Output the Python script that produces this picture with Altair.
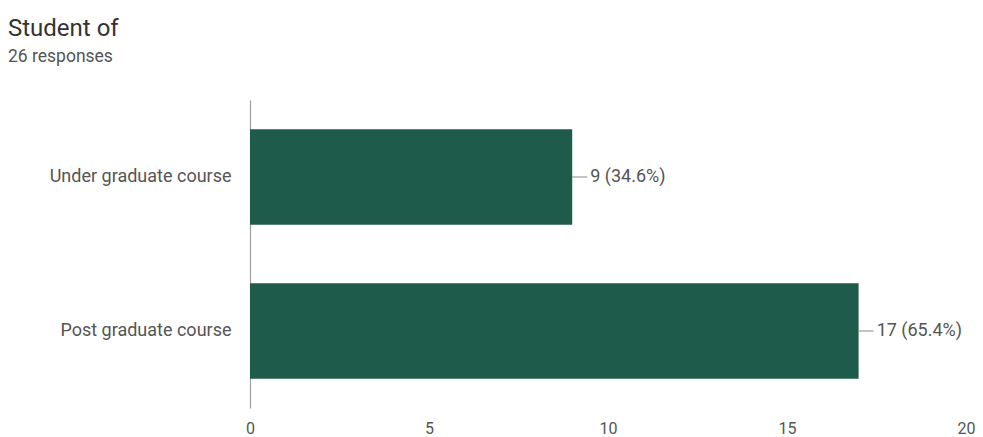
import altair as alt
import pandas as pd

categories = ["Under graduate course", "Post graduate course"]
counts = [9, 17]
labels = ["9 (34.6%)", "17 (65.4%)"]

df = pd.DataFrame({"cat": categories, "n": counts, "label": labels})

BAR = "#1f5b4b"
TXT = "#555555"

y_enc = alt.Y("cat:N", sort=categories, title=None,
              scale=alt.Scale(paddingInner=0.38, paddingOuter=0.19),
              axis=alt.Axis(labelFont="Roboto", labelFontSize=18, labelColor=TXT,
                            labelPadding=19, labelLimit=400, ticks=False,
                            domainColor="#9e9e9e", domainWidth=1.2, grid=False))
x_scale = alt.Scale(domain=[0, 20], nice=False)

base = alt.Chart(df)

bars = base.mark_bar(color=BAR).encode(
    x=alt.X("n:Q", scale=x_scale, title=None,
            axis=alt.Axis(values=[0, 5, 10, 15, 20], labelFont="Roboto", labelFontSize=16,
                          labelColor=TXT, labelPadding=12, labelFlush=False, ticks=False,
                          domain=False, grid=False)),
    y=y_enc,
)

leader = base.transform_calculate(n2="datum.n + 0.42").mark_rule(color="#888888", strokeWidth=1).encode(
    x=alt.X("n:Q", scale=x_scale),
    x2="n2:Q",
    y=alt.Y("cat:N", sort=categories),
)

text = base.transform_calculate(n2="datum.n + 0.42").mark_text(
    align="left", baseline="middle", dx=3, font="Roboto", fontSize=18, color=TXT
).encode(
    x=alt.X("n2:Q", scale=x_scale),
    y=alt.Y("cat:N", sort=categories),
    text="label:N",
)

chart = (bars + leader + text).properties(
    width=716, height=308,
    title=alt.TitleParams(
        text="Student of", subtitle="26 responses", anchor="start", frame="group",
        dx=-242, offset=35, font="Roboto", fontSize=24, fontWeight="normal", color="#333333",
        subtitleFont="Roboto", subtitleFontSize=17.5, subtitleColor="#555555", subtitlePadding=7,
    ),
    autosize=alt.AutoSizeParams(type="none"),
    padding={"left": 242, "top": 92, "right": 9, "bottom": 29},
).configure_view(stroke=None)

chart.save("out.html", embed_options={"renderer": "svg", "actions": False})
